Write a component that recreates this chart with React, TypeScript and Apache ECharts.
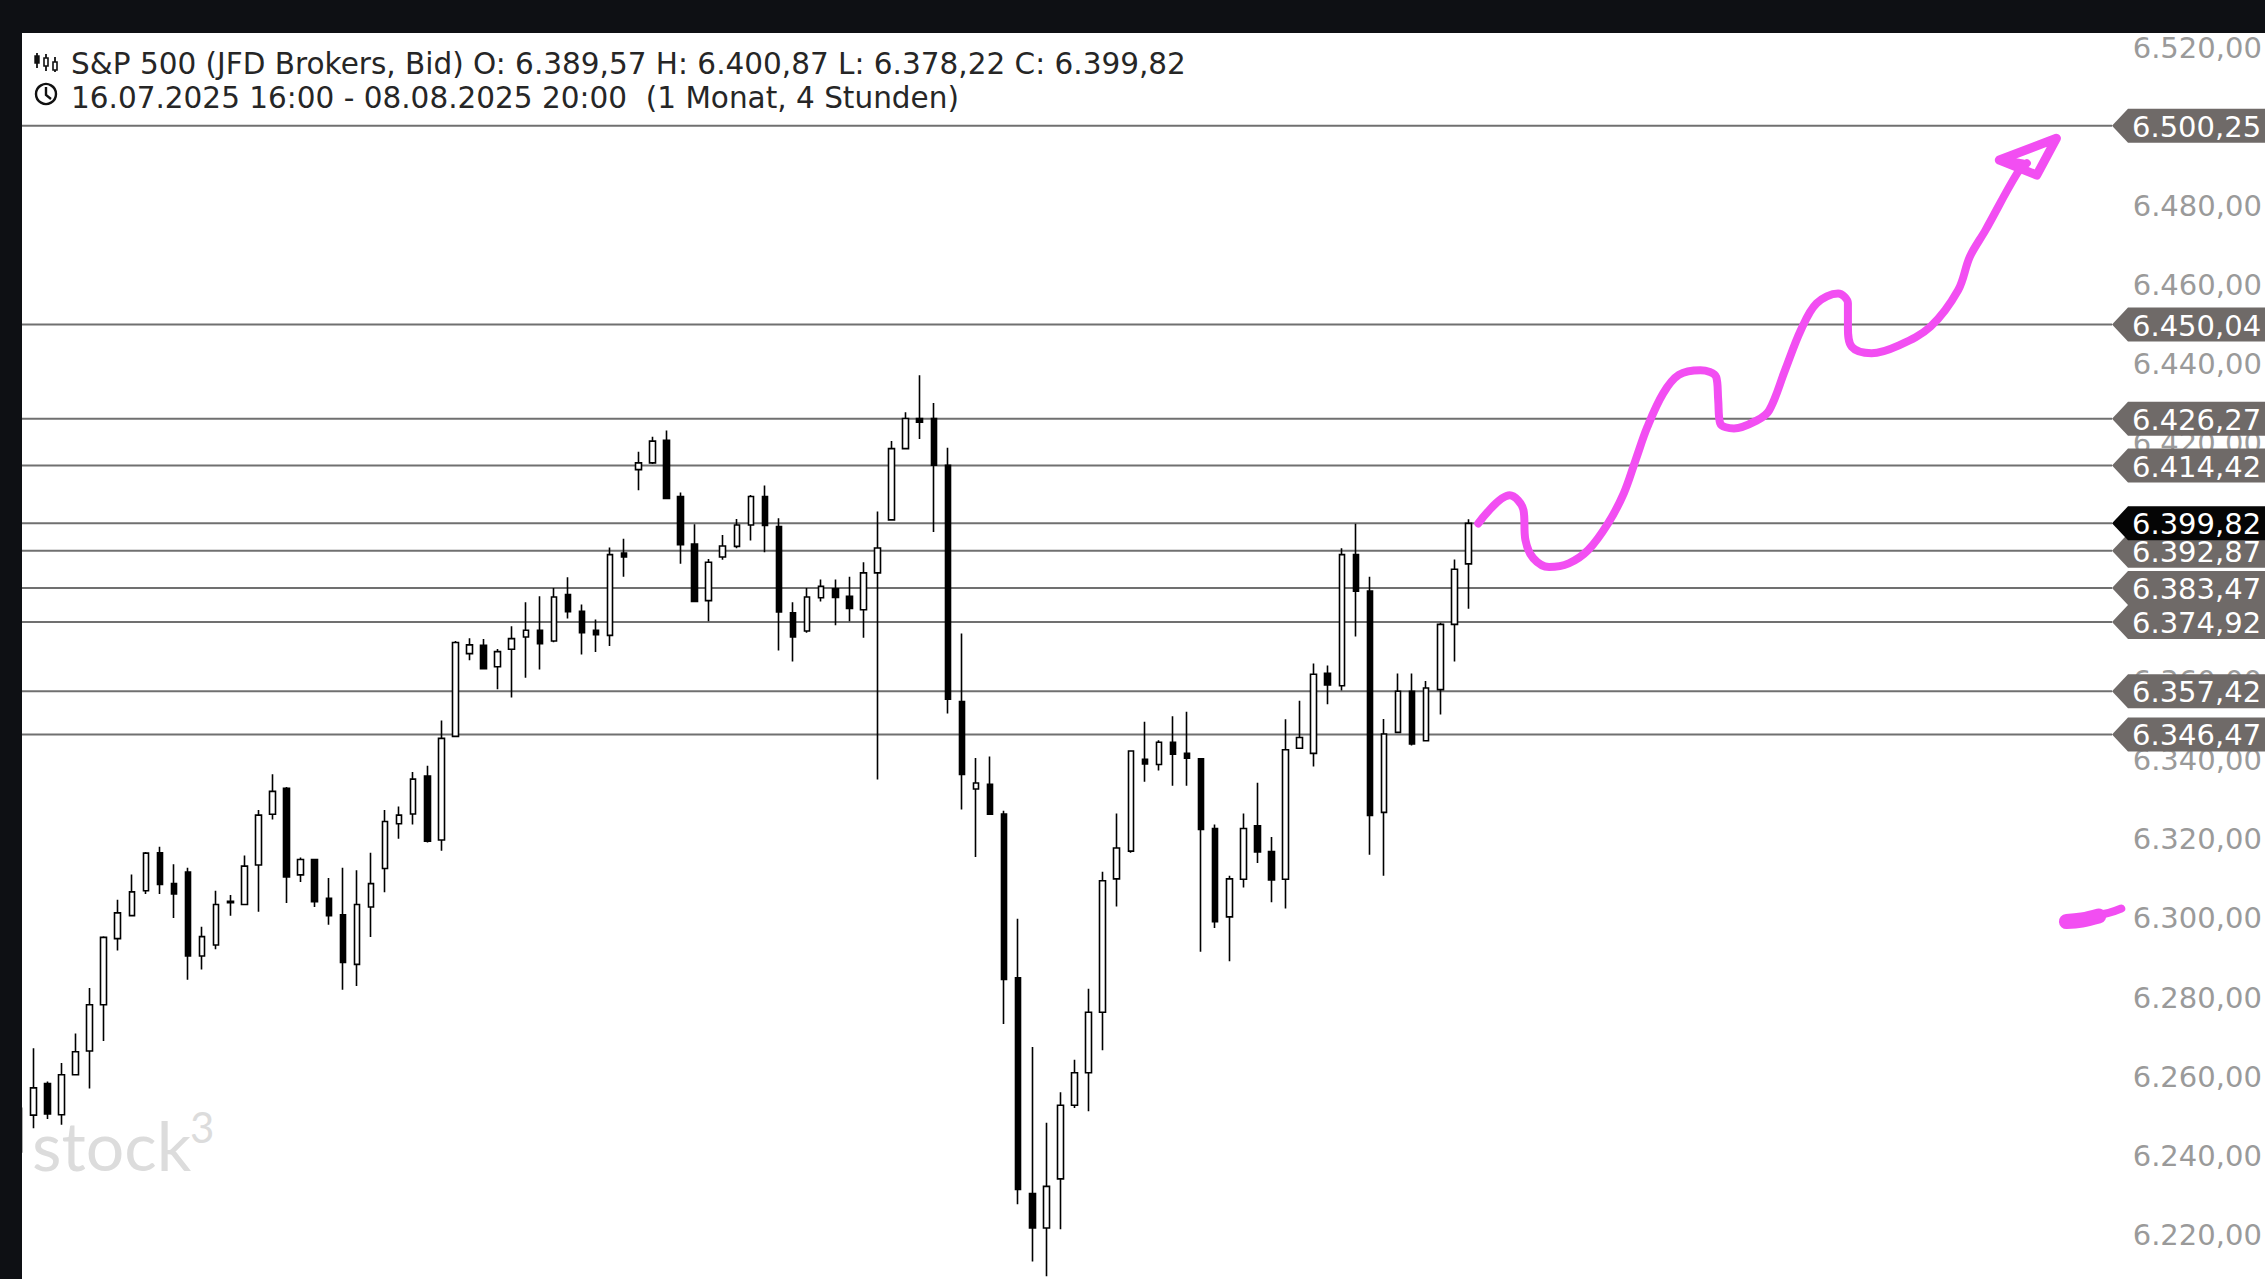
import React, { useEffect, useRef } from "react";
import * as echarts from "echarts";

// ---------- data ----------
const TRADING_DAYS = [
  "16.07.2025", "17.07.2025", "18.07.2025", "21.07.2025", "22.07.2025", "23.07.2025",
  "24.07.2025", "25.07.2025", "28.07.2025", "29.07.2025", "30.07.2025", "31.07.2025",
  "01.08.2025", "04.08.2025", "05.08.2025", "06.08.2025", "07.08.2025", "08.08.2025",
];
const SESSION_HOURS = ["00:00", "04:00", "08:00", "12:00", "16:00", "20:00"];
const FIRST_SESSION_HOURS = ["16:00", "20:00"];
const FUTURE_SLOTS = 46;

const OPEN = [
  6252, 6250.3, 6258.3, 6250.4, 6260.5, 6266.5, 6278.2, 6294.9, 6300.7, 6307.0,
  6316.6, 6308.8, 6311.7, 6290.5, 6293.3, 6304.0, 6303.5, 6313.5, 6326.3, 6332.9,
  6311.0, 6314.9, 6305.1, 6300.9, 6288.4, 6302.9, 6312.6, 6323.9, 6326.4, 6336.0,
  6319.8, 6346.0, 6366.9, 6369.0, 6363.6, 6368.0, 6371.1, 6372.8, 6370.1, 6381.8,
  6377.6, 6372.8, 6371.5, 6392.3, 6413.4, 6415.1, 6420.8, 6406.6, 6394.6, 6380.3,
  6391.3, 6394.0, 6399.4, 6406.6, 6399.0, 6377.2, 6372.6, 6381.0, 6383.3, 6381.4,
  6378.0, 6387.3, 6400.7, 6418.7, 6426.3, 6426.3, 6414.5, 6354.8, 6332.7, 6333.9,
  6326.4, 6285.0, 6230.5, 6221.8, 6234.2, 6252.8, 6261.0, 6276.3, 6310.0, 6317.0,
  6340.2, 6338.9, 6344.5, 6341.7, 6340.3, 6322.7, 6300.4, 6309.9, 6323.4, 6316.9,
  6309.9, 6343.0, 6341.7, 6361.9, 6358.8, 6391.9, 6382.7, 6326.8, 6347.0, 6357.4,
  6344.9, 6357.8, 6374.3, 6389.57,
];
const CLOSE = [
  6241, 6257.2, 6250.6, 6260.5, 6266.3, 6278.2, 6295.2, 6301.4, 6306.7, 6316.5,
  6308.6, 6306.2, 6290.5, 6295.4, 6303.5, 6304.3, 6313.2, 6326.1, 6332.1, 6310.5,
  6314.9, 6304.2, 6300.7, 6288.9, 6303.5, 6308.8, 6324.5, 6326.1, 6335.2, 6319.5,
  6345.5, 6369.7, 6369.1, 6363.1, 6367.4, 6370.7, 6372.8, 6369.4, 6381.2, 6377.5,
  6372.2, 6371.7, 6391.9, 6391.3, 6415.1, 6420.6, 6406.1, 6394.4, 6380.1, 6390.0,
  6394.1, 6399.4, 6406.6, 6399.3, 6377.4, 6371.1, 6381.2, 6383.9, 6381.1, 6378.3,
  6387.3, 6393.6, 6418.7, 6426.3, 6425.4, 6414.5, 6355.4, 6336.4, 6334.2, 6326.3,
  6284.6, 6231.5, 6221.8, 6232.3, 6252.8, 6261.0, 6276.3, 6309.5, 6317.8, 6342.3,
  6339.0, 6344.5, 6341.5, 6340.5, 6322.5, 6299.2, 6310.0, 6322.7, 6316.8, 6309.7,
  6342.6, 6345.7, 6361.7, 6359.0, 6391.9, 6382.7, 6326.0, 6346.6, 6357.4, 6344.1,
  6358.2, 6374.3, 6388.2, 6399.82,
];
const LOW = [
  6238, 6247.0, 6249.3, 6247.9, 6260.3, 6257.0, 6269.0, 6291.9, 6300.5, 6306.2,
  6306.2, 6300.1, 6284.5, 6287.1, 6292.2, 6300.7, 6303.3, 6301.7, 6325.0, 6303.9,
  6309.2, 6302.9, 6298.4, 6282.0, 6282.9, 6295.3, 6306.6, 6320.1, 6323.7, 6319.2,
  6317.1, 6345.8, 6365.2, 6362.9, 6357.9, 6355.8, 6360.8, 6362.9, 6369.8, 6375.8,
  6366.7, 6367.3, 6368.8, 6386.3, 6408.2, 6414.8, 6405.9, 6389.6, 6380.0, 6375.1,
  6390.6, 6393.5, 6395.5, 6392.5, 6367.7, 6364.9, 6372.2, 6380.1, 6374.1, 6375.1,
  6370.9, 6335.1, 6400.5, 6418.5, 6421.1, 6397.6, 6351.8, 6327.5, 6315.5, 6326.1,
  6273.3, 6227.8, 6213.3, 6209.6, 6221.5, 6252.1, 6251.3, 6266.7, 6303.0, 6316.6,
  6334.5, 6337.4, 6333.5, 6333.5, 6291.6, 6297.6, 6289.2, 6307.8, 6314.0, 6304.1,
  6302.5, 6342.8, 6338.4, 6354.1, 6357.6, 6371.2, 6316.1, 6310.8, 6346.8, 6343.7,
  6344.7, 6351.5, 6364.9, 6378.22,
];
const HIGH = [
  6262, 6267.2, 6258.8, 6263.5, 6270.9, 6282.4, 6295.5, 6304.7, 6311.1, 6316.8,
  6318.1, 6313.7, 6312.8, 6297.9, 6307.0, 6305.9, 6315.9, 6327.4, 6336.4, 6333.2,
  6315.4, 6315.1, 6310.2, 6312.8, 6312.2, 6316.6, 6327.4, 6328.3, 6337.0, 6338.6,
  6350.0, 6370.1, 6370.8, 6370.6, 6368.1, 6373.8, 6379.9, 6381.4, 6383.5, 6386.2,
  6379.3, 6375.5, 6393.7, 6395.9, 6417.9, 6421.7, 6423.3, 6407.6, 6399.6, 6390.8,
  6396.9, 6400.9, 6407.0, 6409.4, 6401.1, 6379.9, 6383.5, 6385.6, 6385.6, 6386.3,
  6390.0, 6402.8, 6420.6, 6427.9, 6437.2, 6430.2, 6418.9, 6372.0, 6340.5, 6340.9,
  6327.2, 6299.9, 6267.5, 6248.4, 6256.1, 6264.3, 6282.2, 6311.8, 6326.5, 6342.5,
  6349.7, 6345.0, 6351.1, 6352.2, 6340.5, 6323.7, 6310.8, 6326.5, 6334.3, 6320.6,
  6350.3, 6355.0, 6364.4, 6363.9, 6393.5, 6399.7, 6386.3, 6350.4, 6361.9, 6361.9,
  6360.0, 6374.7, 6390.7, 6400.87,
];

const LEVELS = [6500.25, 6450.04, 6426.27, 6414.42, 6399.82, 6392.87, 6383.47, 6374.92, 6357.42, 6346.47];
const LAST_PRICE = 6399.82;
const Y_TICKS = [6220, 6240, 6260, 6280, 6300, 6320, 6340, 6360, 6380, 6400, 6420, 6440, 6460, 6480, 6500, 6520];

// hand-drawn annotation (x in candle slots, y in price)
const PINK_X = [
  103.7, 105.93, 106.91, 107.05, 107.61, 108.73, 110.13, 111.52, 112.92, 114.04, 114.88, 115.72,
  116.83, 117.95, 119.49, 120.61, 120.75, 120.89, 121.87, 123.54, 124.38, 125.5, 126.62, 127.74,
  129.27, 129.97, 129.97, 130.25, 131.65, 133.6, 135.84, 137.8, 138.64, 139.75, 141.99, 142.69,
];
const PINK_Y = [
  6399.8, 6406.9, 6403.2, 6395.6, 6391.0, 6388.8, 6389.7, 6393.1, 6399.8, 6407.4, 6415.8, 6424.2,
  6432.6, 6437.3, 6438.5, 6436.8, 6431.0, 6425.1, 6423.8, 6425.9, 6428.4, 6438.5, 6448.6, 6455.4,
  6457.9, 6455.4, 6449.5, 6444.4, 6442.8, 6444.8, 6449.5, 6458.7, 6467.2, 6473.9, 6488.2, 6490.8,
];
const ARROW_X = [140.73, 144.79, 143.39, 140.73, 142.4];
const ARROW_Y = [6491.6, 6497.1, 6487.8, 6491.6, 6490.6];
const BLOB_X = [145.5, 146.6, 147.8];
const BLOB_Y = [6299.2, 6299.6, 6300.6];
const BLOB_TAIL_X = [147.2, 148.5, 149.4];
const BLOB_TAIL_Y = [6300.6, 6301.4, 6302.5];

// ---------- helpers ----------
const fmt = (v: number) => {
  const [i, d] = v.toFixed(2).split(".");
  return i.replace(/\B(?=(\d{3})+(?!\d))/g, ".") + "," + d;
};

const CATEGORIES: string[] = [];
TRADING_DAYS.forEach((d, k) => {
  (k === 0 ? FIRST_SESSION_HOURS : SESSION_HOURS).forEach((h) => CATEGORIES.push(`${d} ${h}`));
});
const N_CANDLES = OPEN.length;
for (let k = 0; k < FUTURE_SLOTS; k++) CATEGORIES.push("");

// ---------- layout constants ----------
const W = 2265;
const H = 1279;
const GRID_LEFT = 12.2;
const GRID_RIGHT = 142.3;
const GRID_TOP = 33;
const LINE_X0 = 22;
const TAG_X = 2112;
const TAG_RECT_X = 2128;
const TAG_H = 34;
const LABEL_FONT = "DejaVu Sans";
const LABEL_SIZE = 29;
const PINK = "#f24ef2";

export default function App() {
  const ref = useRef<HTMLDivElement>(null);

  useEffect(() => {
    if (!ref.current) return;
    const chart = echarts.init(ref.current, undefined, { renderer: "svg" });
    const li = N_CANDLES - 1;
    const header1 = `S&P 500 (JFD Brokers, Bid) O: ${fmt(OPEN[li])} H: ${fmt(HIGH[li])} L: ${fmt(LOW[li])} C: ${fmt(CLOSE[li])}`;
    const header2 = `${CATEGORIES[0]} - ${CATEGORIES[li]}  (1 Monat, 4 Stunden)`;

    const candleData = OPEN.map((o, i) => [o, CLOSE[i], LOW[i], HIGH[i]]);

    const drawLine = (name: string, xs: number[], ys: number[], width: number, smooth: number | boolean) => ({
      type: "line",
      name,
      xAxisIndex: 1,
      yAxisIndex: 0,
      z: 4,
      clip: false,
      silent: true,
      smooth,
      showSymbol: false,
      symbol: "none",
      data: xs.map((x, i) => [x, ys[i]]),
      lineStyle: { color: PINK, width, cap: "round", join: "round" },
    });

    chart.setOption({
      animation: false,
      backgroundColor: "#ffffff",
      grid: { left: GRID_LEFT, right: GRID_RIGHT, top: GRID_TOP, bottom: 0, containLabel: false },
      xAxis: [
        { type: "category", data: CATEGORIES, boundaryGap: true, show: false },
        { type: "value", min: -0.5, max: CATEGORIES.length - 0.5, show: false },
      ],
      yAxis: {
        type: "value",
        position: "right",
        min: 6208.9,
        max: 6523.7,
        scale: true,
        splitLine: { show: false },
        axisLine: { show: false },
        axisTick: { show: false },
        axisLabel: {
          customValues: Y_TICKS,
          formatter: (v: number) => fmt(v),
          color: "#9a9a9a",
          fontSize: LABEL_SIZE,
          fontFamily: LABEL_FONT,
          margin: 10,
          align: "left",
        },
      },
      series: [
        {
          type: "custom",
          name: "levels",
          xAxisIndex: 1,
          yAxisIndex: 0,
          z: 2,
          clip: false,
          silent: true,
          data: LEVELS.map((v) => [0, v]),
          renderItem: (params: any, api: any) => {
            const v = api.value(1) as number;
            const y = api.coord([0, v])[1];
            const isLast = v === LAST_PRICE;
            const zz = isLast ? 20 : 1;
            return {
              type: "group",
              children: [
                {
                  type: "line",
                  z2: 0,
                  shape: { x1: LINE_X0, y1: y, x2: TAG_X, y2: y },
                  style: { stroke: "#707070", lineWidth: 2 },
                },
                {
                  type: "polygon",
                  z2: zz,
                  shape: {
                    points: [
                      [TAG_X, y],
                      [TAG_RECT_X, y - TAG_H / 2],
                      [W + 5, y - TAG_H / 2],
                      [W + 5, y + TAG_H / 2],
                      [TAG_RECT_X, y + TAG_H / 2],
                    ],
                  },
                  style: { fill: isLast ? "#050505" : "#6f6a68" },
                },
                {
                  type: "text",
                  z2: zz + 1,
                  x: 2132,
                  y: y + 1,
                  style: {
                    text: fmt(v),
                    fill: "#ffffff",
                    font: `${LABEL_SIZE}px '${LABEL_FONT}'`,
                    verticalAlign: "middle",
                    align: "left",
                  },
                },
              ],
            };
          },
        },
        {
          type: "candlestick",
          name: "S&P 500",
          xAxisIndex: 0,
          yAxisIndex: 0,
          z: 3,
          barWidth: 6,
          data: candleData,
          itemStyle: {
            color: "#ffffff",
            color0: "#000000",
            borderColor: "#000000",
            borderColor0: "#000000",
            borderWidth: 1.6,
          },
        },
        drawLine("drawing", PINK_X, PINK_Y, 8, 0.35),
        drawLine("arrow", ARROW_X, ARROW_Y, 9, false),
        drawLine("mark", BLOB_X, BLOB_Y, 15, 0.4),
        drawLine("mark tail", BLOB_TAIL_X, BLOB_TAIL_Y, 8, 0.4),
      ],
      graphic: [
        {
          type: "text",
          z: 0,
          x: 32,
          y: 1178,
          silent: true,
          style: { text: "stock", font: "400 68px Lato", fill: "#dcdcdc", verticalAlign: "bottom" },
        },
        {
          type: "text",
          z: 0,
          x: 190,
          y: 1106,
          silent: true,
          style: { text: "3", font: "400 42px Lato", fill: "#dcdcdc", verticalAlign: "top" },
        },
        { type: "rect", z: 100, silent: true, shape: { x: 0, y: 0, width: W, height: 33 }, style: { fill: "#0e1014" } },
        { type: "rect", z: 100, silent: true, shape: { x: 0, y: 0, width: 22, height: H }, style: { fill: "#0e1014" } },
        {
          type: "group",
          z: 50,
          silent: true,
          children: [
            { type: "line", shape: { x1: 37, y1: 53, x2: 37, y2: 68 }, style: { stroke: "#111", lineWidth: 1.8 } },
            { type: "rect", shape: { x: 35, y: 56, width: 4, height: 7 }, style: { fill: "#111", stroke: "#111", lineWidth: 1.4 } },
            { type: "line", shape: { x1: 46, y1: 54, x2: 46, y2: 71 }, style: { stroke: "#111", lineWidth: 1.8 } },
            { type: "rect", shape: { x: 44, y: 58, width: 4, height: 8 }, style: { fill: "#fff", stroke: "#111", lineWidth: 1.6 } },
            { type: "line", shape: { x1: 55, y1: 57, x2: 55, y2: 72 }, style: { stroke: "#111", lineWidth: 1.8 } },
            { type: "rect", shape: { x: 53, y: 62, width: 4, height: 8 }, style: { fill: "#fff", stroke: "#111", lineWidth: 1.6 } },
            { type: "circle", shape: { cx: 46, cy: 94, r: 10 }, style: { fill: "none", stroke: "#111", lineWidth: 2.4 } },
            { type: "polyline", shape: { points: [[46, 87], [46, 95], [51, 99]] }, style: { fill: "none", stroke: "#111", lineWidth: 2.4 } },
            {
              type: "text",
              x: 71,
              y: 64,
              style: { text: header1, font: "29.5px 'DejaVu Sans'", fill: "#262626", verticalAlign: "middle" },
            },
            {
              type: "text",
              x: 71,
              y: 98,
              style: { text: header2, font: "29.5px 'DejaVu Sans'", fill: "#262626", verticalAlign: "middle" },
            },
          ],
        },
      ],
    });

    return () => chart.dispose();
  }, []);

  return (
    <div
      ref={ref}
      style={{ position: "fixed", left: 0, top: 0, width: W, height: H, background: "#ffffff" }}
    />
  );
}
